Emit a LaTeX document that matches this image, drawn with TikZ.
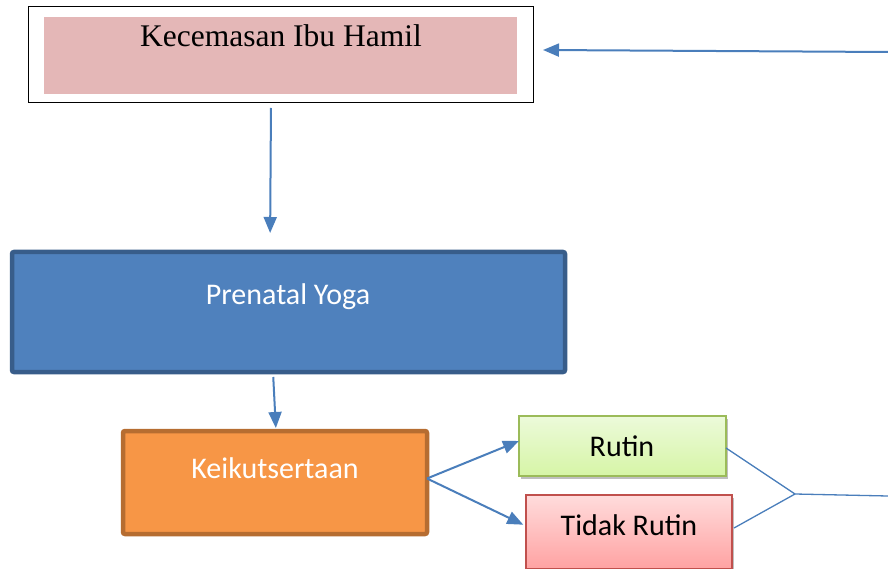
\documentclass[tikz,border=0pt]{standalone}
\usepackage{fontspec}
\setmainfont{Liberation Serif}
\newfontfamily\calfont{Carlito}
\usetikzlibrary{arrows.meta,shadows}
\definecolor{conn}{RGB}{74,126,187}
\definecolor{pinkfill}{RGB}{228,183,183}
\definecolor{bluefill}{RGB}{79,129,189}
\definecolor{blueline}{RGB}{56,93,138}
\definecolor{orangefill}{RGB}{247,150,70}
\definecolor{orangeline}{RGB}{182,109,49}
\definecolor{greentop}{RGB}{236,250,218}
\definecolor{greenbot}{RGB}{214,245,166}
\definecolor{greenline}{RGB}{155,187,89}
\definecolor{redtop}{RGB}{255,220,220}
\definecolor{redbot}{RGB}{255,162,162}
\definecolor{redline}{RGB}{192,80,77}
\tikzset{
  boxbase/.style={anchor=north west, inner sep=0pt, outer sep=0pt},
  arr/.style={draw=conn, line width=2pt, -{Triangle[length=16pt,width=13pt]}},
  conline/.style={draw=conn, line width=1.3pt},
  bigtext/.style={font=\fontsize{31.5}{36}\selectfont, inner sep=0pt},
  caltext/.style={font=\calfont\fontsize{30}{35}\selectfont, inner sep=0pt},
  softshadow/.style={drop shadow={shadow xshift=1.5pt, shadow yshift=-2.5pt, opacity=0.25, fill=black}}
}
\begin{document}
\begin{tikzpicture}[x=1pt,y=-1pt]
\useasboundingbox (0,0) rectangle (888,569);
% top box
\node[boxbase, draw=black, line width=1pt, fill=white, minimum width=505pt, minimum height=96pt] (outer) at (28,7) {};
\node[boxbase, fill=pinkfill, minimum width=473pt, minimum height=77pt] (pink) at (44,17) {};
\node[bigtext] (kec) at (281,36) {Kecemasan Ibu Hamil};
% prenatal yoga
\node[boxbase, draw=blueline, line width=4.5pt, fill=bluefill, rounded corners=2pt, minimum width=553pt, minimum height=120pt] (yoga) at (12,252) {};
\node[caltext, text=white] (yogat) at (288,297) {Prenatal Yoga};
% keikutsertaan
\node[boxbase, draw=orangeline, line width=4.5pt, fill=orangefill, rounded corners=2pt, minimum width=304pt, minimum height=103pt] (keik) at (123,431) {};
\node[caltext, text=white] (keikt) at (275,468) {Keikutsertaan};
% rutin
\node[boxbase, draw=greenline, line width=1.3pt, top color=greentop, bottom color=greenbot, softshadow, minimum width=207pt, minimum height=60pt] (rutin) at (519,416) {};
\node[caltext, text=black] (rutint) at (622,446) {Rutin};
% tidak rutin
\node[boxbase, draw=redline, line width=1.3pt, top color=redtop, bottom color=redbot, softshadow, minimum width=206pt, minimum height=74pt] (tidak) at (526,495) {};
\node[caltext, text=black] (tidakt) at (629,525) {Tidak Rutin};
% coordinates
\coordinate (rin) at (888,52);
\coordinate (junc) at (795,494);
\coordinate (rout) at (888,496);
% connectors
\draw[arr] (rin) -- ([xshift=10pt,yshift=5pt]outer.east);
\draw[arr, shorten <=5pt, shorten >=19pt] ([xshift=-9.5pt]outer.south) -- ([xshift=-18.5pt]yoga.north);
\draw[arr, shorten <=5pt, shorten >=3pt] ([xshift=-15.5pt]yoga.south) -- ([xshift=1pt]keik.north);
\draw[arr] ([yshift=4pt]keik.east) -- ([yshift=5pt]rutin.west);
\draw[arr, shorten >=3pt] ([yshift=4pt]keik.east) -- ([yshift=6pt]tidak.west);
\draw[conline] ([yshift=-2pt]rutin.east) -- (junc);
\draw[conline] ([xshift=2pt,yshift=4pt]tidak.east) -- (junc);
\draw[conline] (junc) -- (rout);
\end{tikzpicture}
\end{document}
